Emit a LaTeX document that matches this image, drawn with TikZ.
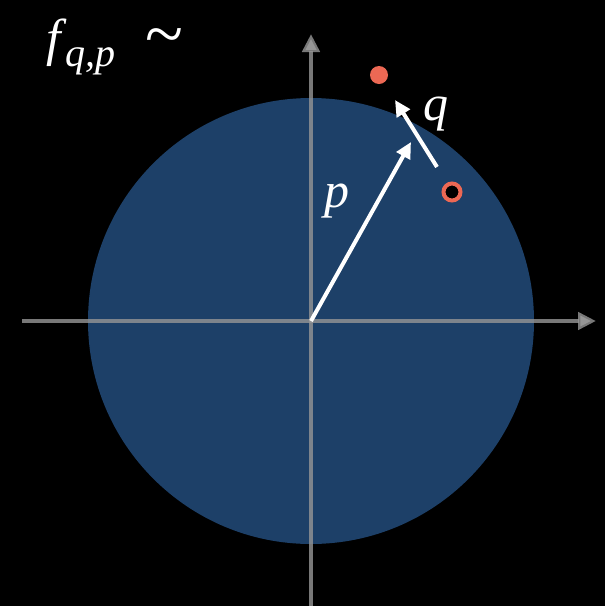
\documentclass[tikz,border=0pt]{standalone}
\usepackage{fontspec}
\setmainfont{Liberation Serif}
\usetikzlibrary{arrows.meta}
\definecolor{discblue}{RGB}{29,64,104}
\definecolor{axisgray}{RGB}{150,150,150}
\definecolor{dotred}{RGB}{236,104,84}
\tikzset{
  axis/.style={draw=axisgray, draw opacity=0.8, line width=4.5pt, -{Triangle[length=18pt,width=17pt]}},
  vec/.style={draw=white, line width=4pt, -{Triangle[length=16pt,width=15pt]}},
  lbl/.style={text=white, font=\fontsize{50}{52}\selectfont\itshape, inner sep=0pt},
}
\begin{document}
\begin{tikzpicture}[x=1pt,y=-1pt]
\useasboundingbox[fill=black] (0,0) rectangle (605,606);
\coordinate (O) at (311,321);
\fill[discblue] (O) circle[radius=223];
\coordinate (xl) at (22,321);
\coordinate (xr) at (596,321);
\coordinate (yb) at (311,606);
\coordinate (yt) at (311,34);
\draw[axis] (xl) -- (xr);
\draw[axis] (yb) -- (yt);
\coordinate (ptip) at (411,142);
\coordinate (qs) at (437,167);
\coordinate (qe) at (395,100);
\draw[vec] (O) -- (ptip);
\draw[vec] (qs) -- (qe);
\node[circle, fill=dotred, minimum size=18pt, inner sep=0pt] (kq) at (379,75) {};
\node[circle, draw=dotred, fill=black, line width=4pt, minimum size=17pt, inner sep=0pt] (k) at (452,192) {};
\node[lbl] (plbl) at (337,201) {p};
\node[lbl] (qlbl) at (436,114) {q};
\node[lbl, anchor=base west, font=\fontsize{52}{54}\selectfont\itshape] (flbl) at (46,55)
  {f\kern5pt\raisebox{-11pt}{\fontsize{40}{42}\selectfont q,p}\kern30pt\upshape\raisebox{-2pt}{\fontsize{70}{72}\selectfont\textasciitilde}};
\end{tikzpicture}
\end{document}
